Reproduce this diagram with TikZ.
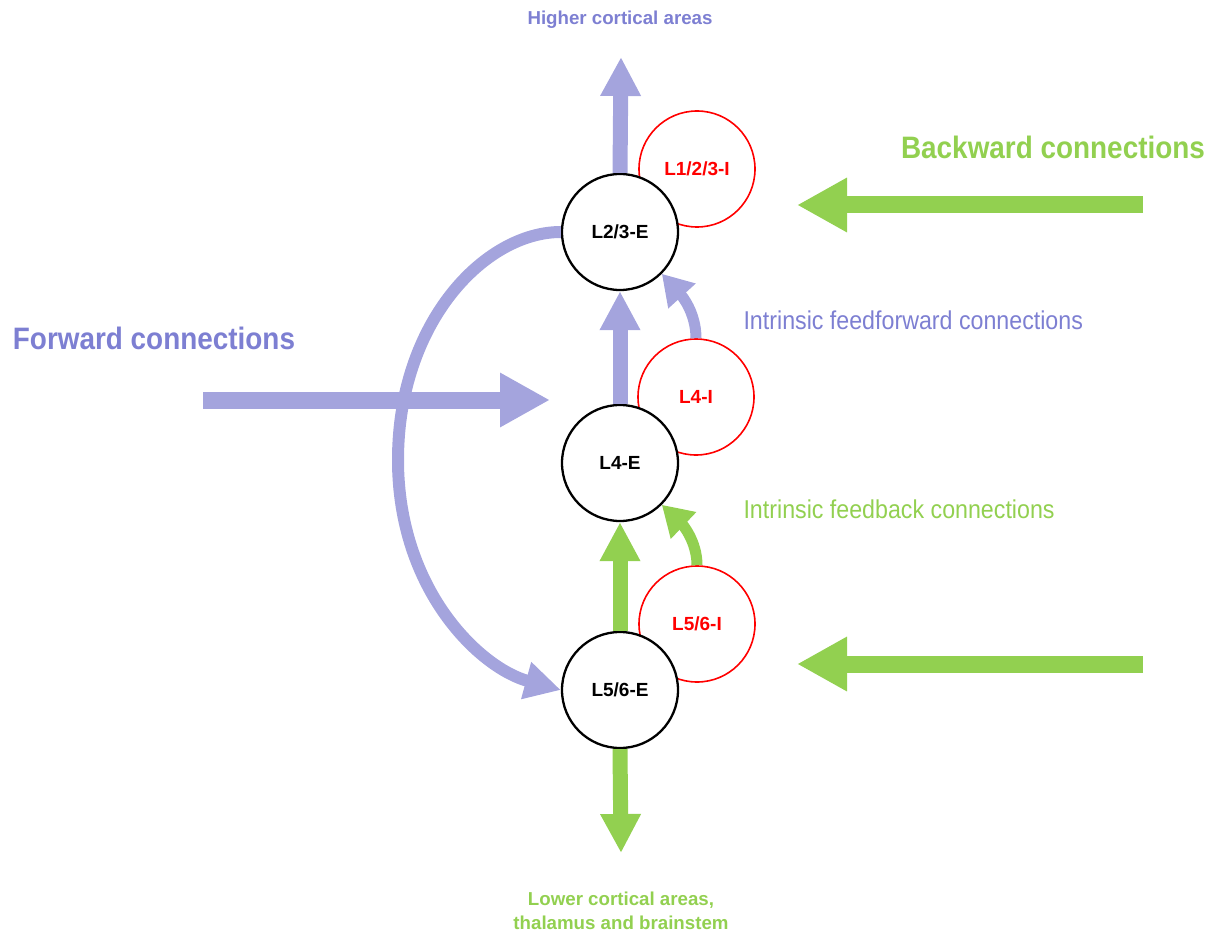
\documentclass[tikz,border=0pt]{standalone}
\usepackage{fontspec}
\setmainfont{Liberation Sans}
\newfontfamily\condfont[FakeStretch=0.9]{Liberation Sans}
\usetikzlibrary{arrows.meta}
\definecolor{fblue}{RGB}{164,164,221}
\definecolor{tblue}{RGB}{125,127,210}
\definecolor{bgreen}{RGB}{146,208,80}
\begin{document}
\begin{tikzpicture}[x=1pt,y=-1pt,
  exc/.style={circle,draw=black,line width=2.3pt,fill=white,minimum size=116pt,inner sep=0pt,
    font=\bfseries\fontsize{19}{20}\selectfont},
  inh/.style={circle,draw=red,line width=1.6pt,fill=white,minimum size=116pt,inner sep=0pt,
    text=red,font=\bfseries\fontsize{19}{20}\selectfont},
  bigarrow/.style={line width=17pt,-{Triangle[length=50pt,width=51pt]}},
  midarrow/.style={line width=15pt,-{Triangle[length=39pt,width=38pt]}},
  curvearrow/.style={line width=11pt,-{Triangle[length=30pt,width=35pt]}},
  longcurve/.style={line width=12pt,-{Triangle[length=36pt,width=36pt]}},
  title/.style={font=\condfont\bfseries\fontsize{31}{34}\selectfont},
  intr/.style={font=\condfont\fontsize{25.8}{28}\selectfont,anchor=west},
  small/.style={font=\bfseries\fontsize{18.7}{24}\selectfont,align=center}
  ]
\useasboundingbox (0,0) rectangle (1217,933);

% inhibitory populations
\node[inh] (L123I) at (697,169) {L1/2/3-I};
\node[inh] (L4I) at (696,397) {L4-I};
\node[inh] (L56I) at (697,624) {L5/6-I};
% excitatory populations
\node[exc] (L23E) at (620,232) {L2/3-E};
\node[exc] (L4E) at (620,463) {L4-E};
\node[exc] (L56E) at (620,690) {L5/6-E};

% texts
\node[small,text=tblue] (higher) at (620,20) {Higher cortical areas};
\node[small,text=bgreen] (lower) at (621,911) {Lower cortical areas,\\thalamus and brainstem};
\node[title,text=bgreen] (backward) at (1053,147) {Backward connections};
\node[title,text=tblue] (forward) at (154,338) {Forward connections};
\node[intr,text=tblue] (iff) at (740,320) {Intrinsic feedforward connections};
\node[intr,text=bgreen] (ifb) at (740,509) {Intrinsic feedback connections};

% free ends
\coordinate (hightip) at (621,57);
\coordinate (lowtip) at (621,853);
\coordinate (fwdstart) at (203,400);
\coordinate (fwdtip) at (550,400);
\coordinate (bk1start) at (1143,205);
\coordinate (bk1tip) at (797,205);
\coordinate (bk2start) at (1143,664);
\coordinate (bk2tip) at (797,664);

% forward (blue) connections
\draw[longcurve,fblue] (L23E.west) .. controls (485,232) and (398,322) .. (398,460)
   .. controls (398,590) and (480,668) .. (L56E.west);
\draw[bigarrow,fblue] (fwdstart) -- (fwdtip);
\draw[midarrow,fblue] (L23E.north) -- (hightip);
\draw[midarrow,fblue] (L4E.north) -- (L23E.south);
\draw[curvearrow,fblue] (L4I.north) .. controls (696,313) and (682,296) .. (L23E.-45);

% backward (green) connections
\draw[bigarrow,bgreen] (bk1start) -- (bk1tip);
\draw[bigarrow,bgreen] (bk2start) -- (bk2tip);
\draw[midarrow,bgreen] (L56E.north) -- (L4E.south);
\draw[midarrow,bgreen] (L56E.south) -- (lowtip);
\draw[curvearrow,bgreen] (L56I.north) .. controls (697,541) and (682,524) .. (L4E.-45);
\end{tikzpicture}
\end{document}
